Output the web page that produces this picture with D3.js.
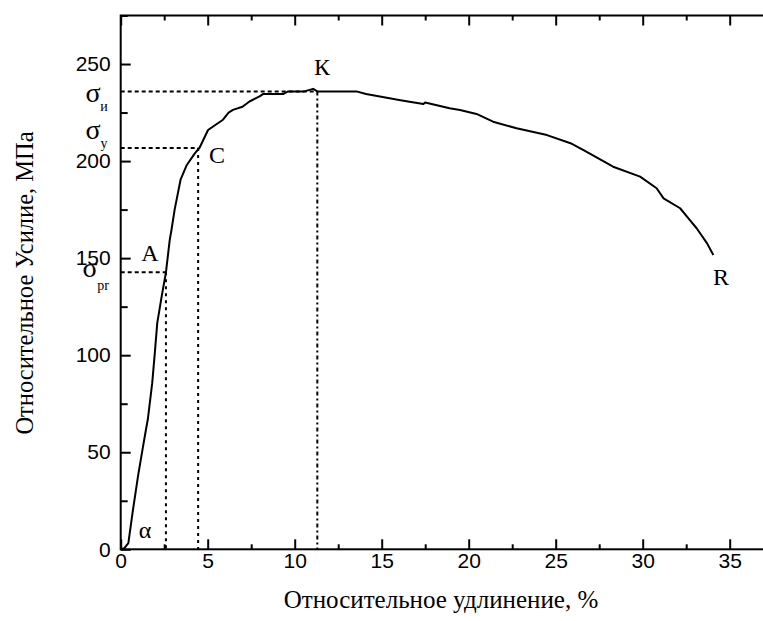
<!DOCTYPE html>
<html><head><meta charset="utf-8">
<script src="https://cdn.jsdelivr.net/npm/d3@7"></script>
<style>body{margin:0;background:#fff}svg{display:block}</style>
</head><body>
<script>
// Data (elongation %, relative force MPa)
const strainPct = [0,0.2,0.44,0.7,1.0,1.24,1.45,1.56,1.81,1.95,2.1,2.35,2.6,2.82,2.92,3.1,3.44,3.8,4.26,4.54,5.02,5.5,5.88,6.2,6.45,7.0,7.4,7.98,8.2,9.35,9.6,10.5,11.06,11.3,12.5,13.55,14.1,15.45,16.0,16.6,17.4,17.5,18.9,19.5,20.45,21.4,22.75,24.5,25.85,26.6,28.3,29.85,30.8,31.2,32.15,32.7,33.1,33.7,34.06];
const stressMPa = [0,0.5,3.2,20,38,50.7,61.6,67,85.6,100,116.5,130,142.7,159.5,164.6,175,190.4,198,204,207,216,219,221.3,225,226.4,228,230.7,233.3,234.6,234.6,235.8,235.8,237.2,235.9,235.9,235.9,234.6,232.4,231.5,230.6,229.4,230.2,227.2,226.3,224.3,220.3,216.9,213.4,209.2,205.7,197.1,192,186,180.8,175.7,169.7,165.4,157.6,151.6];
const xTicksMajor = [0,5,10,15,20,25,30,35];
const xTicksMinor = [2.5,7.5,12.5,17.5,22.5,27.5,32.5,37.5];
const yTicksMajor = [0,50,100,150,200,250];
const yTicksMinor = [25,75,125,175,225,275];
// Characteristic points
const pointNames = ["A","C","K"];
const pointX = [2.6,4.45,11.3];
const pointY = [142.7,206.7,235.9];
const sigmaSubs = ["pr","у","и"];

const W=763,H=621;
const L=120.7, R=120.7+37.5*17.4, T=15.5, B=549.3;
const svg=d3.select("body").append("svg").attr("width",W).attr("height",H);
const x=d3.scaleLinear().domain([0,37.5]).range([L,R]);
const y=d3.scaleLinear().domain([0,275]).range([B,T]);

function styleAxis(g){
  g.select(".domain").remove();
  g.selectAll("line").attr("stroke","#000").attr("stroke-width",2);
  g.selectAll("text").attr("font-family","'Liberation Sans',Arial,sans-serif").attr("font-size",21).attr("fill","#000");
}
// bottom
svg.append("g").attr("transform",`translate(0,${B})`)
  .call(d3.axisBottom(x).tickValues(xTicksMajor).tickSize(-10).tickPadding(4).tickFormat(d3.format("d"))).call(styleAxis);
svg.append("g").attr("transform",`translate(0,${B})`)
  .call(d3.axisBottom(x).tickValues(xTicksMinor).tickSize(-5).tickFormat("")).call(styleAxis);
// top
svg.append("g").attr("transform",`translate(0,${T})`)
  .call(d3.axisTop(x).tickValues(xTicksMajor).tickSize(-10).tickFormat("")).call(styleAxis);
svg.append("g").attr("transform",`translate(0,${T})`)
  .call(d3.axisTop(x).tickValues(xTicksMinor).tickSize(-5).tickFormat("")).call(styleAxis);
// left
svg.append("g").attr("transform",`translate(${L},0)`)
  .call(d3.axisLeft(y).tickValues(yTicksMajor).tickSize(-10).tickPadding(10).tickFormat(d3.format("d"))).call(styleAxis);
svg.append("g").attr("transform",`translate(${L},0)`)
  .call(d3.axisLeft(y).tickValues(yTicksMinor).tickSize(-7).tickFormat("")).call(styleAxis);
// frame
svg.append("rect").attr("x",L).attr("y",T).attr("width",R-L).attr("height",B-T)
  .attr("fill","none").attr("stroke","#000").attr("stroke-width",2);

// guide lines
const hDash="4,3", vDash=["3,4","3,4","4,3,2,3"];
pointNames.forEach((n,i)=>{
  svg.append("line").attr("x1",x(0)).attr("x2",x(pointX[i])).attr("y1",y(pointY[i])).attr("y2",y(pointY[i]))
    .attr("stroke","#000").attr("stroke-width",2).attr("stroke-dasharray",hDash);
  svg.append("line").attr("x1",x(pointX[i])).attr("x2",x(pointX[i])).attr("y1",y(pointY[i])).attr("y2",y(0))
    .attr("stroke","#000").attr("stroke-width",2).attr("stroke-dasharray",vDash[i]);
});

// curve
const pts=strainPct.map((v,i)=>[v,stressMPa[i]]);
svg.append("path").datum(pts).attr("fill","none").attr("stroke","#000").attr("stroke-width",2)
  .attr("stroke-linejoin","round")
  .attr("d",d3.line().x(d=>x(d[0])).y(d=>y(d[1])));

const serif="'Liberation Serif','Times New Roman',serif";
function lab(t,px,py,size,anchor){
  return svg.append("text").attr("x",px).attr("y",py).attr("font-family",serif).attr("font-size",size)
    .attr("text-anchor",anchor||"middle").attr("fill","#000").text(t);
}
// point labels
lab("A",150,261,24);
lab("C",217,163,24);
lab("К",322,75,24);
lab("R",721,285,24);
lab("α",145,538,24);
// sigma labels
const sigY=[270,131.7,95];
const sigX=[90,93,93];
sigmaSubs.forEach((s,i)=>{
  lab("σ",sigX[i],sigY[i]+7,28);
  lab(s,sigX[i]+(s==="pr"?13:11),sigY[i]+(s==="pr"?20:16),14);
});

// titles
lab("Относительное удлинение, %",441,608,25);
svg.append("text").attr("transform","translate(33,283) rotate(-90)").attr("font-family",serif)
  .attr("font-size",24.5).attr("text-anchor","middle").attr("fill","#000").text("Относительное Усилие, МПа");
</script>
</body></html>
